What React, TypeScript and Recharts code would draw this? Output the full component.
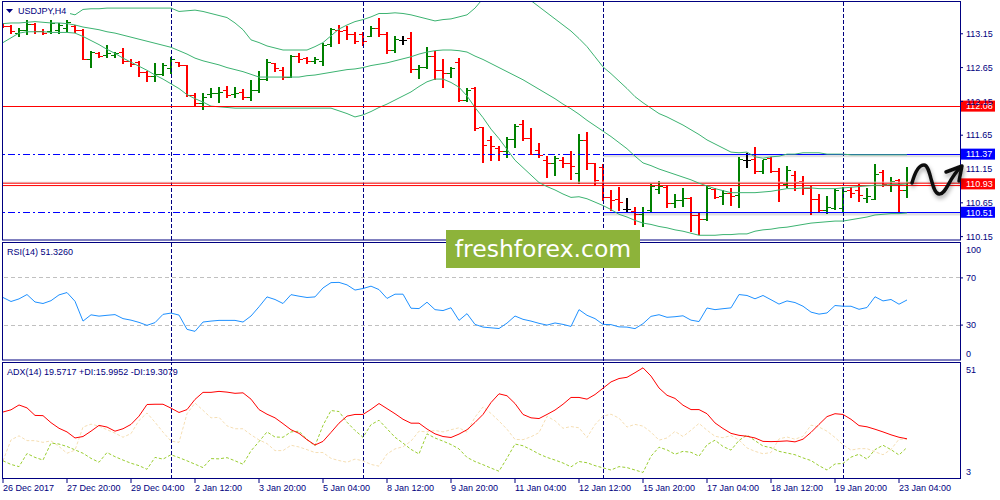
import React from "react";
import { ComposedChart, Bar, Line, XAxis, YAxis, ReferenceLine } from "recharts";

// USDJPY H4, 114 bars
const open = [
  113.30, 113.27, 113.16, 113.21, 113.30, 113.19, 113.19, 113.21, 113.24, 113.27,
  113.21, 112.77, 112.87, 112.84, 112.84, 112.88, 112.75, 112.74, 112.59, 112.53,
  112.56, 112.65, 112.74, 112.69, 112.25, 112.13, 112.26, 112.28, 112.32, 112.26,
  112.29, 112.22, 112.32, 112.48, 112.72, 112.62, 112.51, 112.82, 112.79, 112.75,
  112.75, 113.00, 113.21, 113.21, 113.14, 113.15, 113.11, 113.24, 113.15, 112.91,
  113.06, 113.09, 112.63, 112.66, 112.82, 112.62, 112.57, 112.74, 112.17, 112.35,
  111.77, 111.58, 111.46, 111.42, 111.60, 111.82, 111.61, 111.43, 111.29, 111.24,
  111.29, 111.24, 111.09, 111.58, 111.24, 111.18, 110.74, 110.71, 110.56, 110.53,
  110.49, 110.55, 110.86, 110.89, 110.65, 110.69, 110.72, 110.47, 110.41, 110.86,
  110.75, 110.80, 110.77, 111.29, 111.30, 111.12, 111.32, 111.12, 110.93, 111.06,
  110.97, 110.87, 110.71, 110.55, 110.57, 110.57, 110.84, 110.84, 110.72, 110.71,
  111.11, 110.92, 110.99, 110.84,
];
const high = [
  113.31, 113.28, 113.24, 113.36, 113.31, 113.22, 113.36, 113.31, 113.36, 113.28,
  113.22, 112.90, 112.88, 112.99, 112.88, 112.94, 112.78, 112.75, 112.60, 112.72,
  112.72, 112.81, 112.74, 112.69, 112.28, 112.28, 112.35, 112.37, 112.38, 112.37,
  112.34, 112.47, 112.60, 112.78, 112.72, 112.66, 112.84, 112.87, 112.81, 112.81,
  113.02, 113.24, 113.28, 113.27, 113.18, 113.18, 113.27, 113.39, 113.17, 113.12,
  113.11, 113.18, 112.69, 112.96, 112.90, 112.78, 112.66, 112.79, 112.35, 112.37,
  111.77, 111.64, 111.49, 111.63, 111.82, 111.88, 111.76, 111.54, 111.34, 111.34,
  111.33, 111.42, 111.67, 111.69, 111.24, 111.23, 110.84, 110.89, 110.72, 110.59,
  110.59, 110.93, 110.97, 110.92, 110.78, 110.87, 110.74, 110.50, 110.92, 110.87,
  110.84, 110.87, 111.33, 111.39, 111.48, 111.29, 111.33, 111.17, 111.20, 111.12,
  111.05, 110.90, 110.78, 110.75, 110.86, 110.89, 110.89, 110.93, 110.87, 111.23,
  111.14, 111.03, 111.00, 111.18,
];
const low = [
  113.25, 113.16, 113.11, 113.14, 113.16, 113.14, 113.16, 113.16, 113.19, 113.18,
  112.77, 112.66, 112.81, 112.80, 112.81, 112.72, 112.68, 112.53, 112.45, 112.45,
  112.54, 112.57, 112.68, 112.23, 112.08, 112.04, 112.22, 112.14, 112.22, 112.22,
  112.19, 112.17, 112.29, 112.47, 112.60, 112.48, 112.51, 112.74, 112.72, 112.72,
  112.69, 112.97, 113.02, 113.08, 113.02, 112.99, 113.11, 113.11, 112.87, 112.88,
  113.00, 112.59, 112.50, 112.65, 112.48, 112.37, 112.51, 112.16, 112.16, 111.73,
  111.26, 111.29, 111.29, 111.33, 111.48, 111.58, 111.37, 111.33, 111.03, 111.06,
  111.18, 111.00, 110.95, 111.15, 110.92, 110.69, 110.55, 110.55, 110.52, 110.34,
  110.31, 110.52, 110.80, 110.59, 110.59, 110.60, 110.24, 110.19, 110.40, 110.72,
  110.63, 110.62, 110.59, 111.18, 111.09, 111.09, 111.11, 110.68, 110.89, 110.84,
  110.78, 110.49, 110.52, 110.50, 110.56, 110.53, 110.74, 110.68, 110.66, 110.71,
  110.90, 110.83, 110.53, 110.74,
];
const close = [
  113.27, 113.19, 113.21, 113.30, 113.19, 113.16, 113.31, 113.28, 113.33, 113.21,
  112.77, 112.88, 112.82, 112.87, 112.87, 112.75, 112.71, 112.59, 112.53, 112.56,
  112.69, 112.77, 112.69, 112.25, 112.13, 112.22, 112.28, 112.29, 112.25, 112.28,
  112.22, 112.32, 112.48, 112.74, 112.65, 112.51, 112.82, 112.78, 112.75, 112.78,
  112.99, 113.22, 113.19, 113.14, 113.05, 113.05, 113.24, 113.15, 112.91, 113.08,
  113.06, 112.63, 112.66, 112.82, 112.62, 112.57, 112.65, 112.17, 112.32, 111.76,
  111.51, 111.49, 111.42, 111.60, 111.79, 111.61, 111.37, 111.36, 111.24, 111.32,
  111.24, 111.20, 111.58, 111.24, 110.99, 110.74, 110.69, 110.66, 110.56, 110.49,
  110.52, 110.90, 110.90, 110.65, 110.69, 110.72, 110.47, 110.41, 110.87, 110.74,
  110.80, 110.75, 111.30, 111.29, 111.12, 111.30, 111.12, 110.96, 111.14, 110.96,
  110.87, 110.71, 110.55, 110.59, 110.84, 110.83, 110.80, 110.77, 110.75, 111.08,
  110.93, 110.97, 110.84, 110.96,
];

// Bollinger bands
const upper = [
  113.45, 113.46, 113.46, 113.46, 113.46, 113.46, 113.46, 113.46, 113.46, 113.43,
  113.51, 113.52, 113.52, 113.53, 113.53, 113.53, 113.53, 113.53, 113.53, 113.53,
  113.53, 113.53, 113.48, 113.49, 113.50, 113.48, 113.45, 113.42, 113.39, 113.31,
  113.21, 113.06, 113.02, 112.97, 112.94, 112.91, 112.91, 112.91, 112.91, 112.96,
  113.02, 113.12, 113.22, 113.28, 113.33, 113.36, 113.40, 113.45, 113.45, 113.46,
  113.45, 113.43, 113.40, 113.37, 113.34, 113.36, 113.37, 113.40, 113.43, 113.53,
  113.67, 113.77, 113.86, 113.88, 113.88, 113.76, 113.64, 113.55, 113.46, 113.37,
  113.28, 113.19, 113.08, 112.96, 112.81, 112.66, 112.56, 112.45, 112.34, 112.22,
  112.13, 112.05, 111.97, 111.92, 111.86, 111.80, 111.73, 111.66, 111.58, 111.52,
  111.46, 111.40, 111.39, 111.40, 111.33, 111.31, 111.33, 111.34, 111.37, 111.37,
  111.39, 111.39, 111.39, 111.37, 111.37, 111.37, 111.36, 111.36, 111.36, 111.36,
  111.36, 111.36, 111.36, 111.36,
];
const mid = [
  113.30, 113.31, 113.31, 113.32, 113.33, 113.32, 113.31, 113.31, 113.30, 113.28,
  113.25, 113.23, 113.21, 113.18, 113.16, 113.13, 113.10, 113.07, 113.04, 113.01,
  112.98, 112.95, 112.90, 112.85, 112.79, 112.75, 112.72, 112.69, 112.65, 112.62,
  112.59, 112.55, 112.51, 112.51, 112.51, 112.51, 112.51, 112.51, 112.53, 112.54,
  112.56, 112.58, 112.60, 112.62, 112.63, 112.65, 112.68, 112.70, 112.72, 112.75,
  112.78, 112.81, 112.85, 112.88, 112.90, 112.91, 112.91, 112.90, 112.88, 112.82,
  112.77, 112.71, 112.65, 112.59, 112.53, 112.47, 112.40, 112.33, 112.26, 112.19,
  112.11, 112.04, 111.96, 111.87, 111.79, 111.71, 111.63, 111.54, 111.45, 111.34,
  111.24, 111.20, 111.15, 111.11, 111.07, 111.03, 110.99, 110.94, 110.90, 110.86,
  110.83, 110.80, 110.80, 110.80, 110.80, 110.81, 110.82, 110.84, 110.86, 110.86,
  110.87, 110.87, 110.86, 110.86, 110.86, 110.87, 110.88, 110.89, 110.90, 110.91,
  110.91, 110.92, 110.92, 110.93,
];
const lower = [
  113.02, 113.09, 113.16, 113.18, 113.18, 113.18, 113.17, 113.17, 113.17, 113.16,
  113.11, 113.05, 112.99, 112.92, 112.86, 112.79, 112.73, 112.67, 112.61, 112.54,
  112.48, 112.41, 112.34, 112.25, 112.19, 112.14, 112.08, 112.07, 112.06, 112.05,
  112.05, 112.05, 112.05, 112.05, 112.05, 112.05, 112.05, 112.05, 112.05, 112.05,
  112.05, 112.05, 112.01, 111.97, 111.92, 111.95, 112.00, 112.06, 112.11, 112.17,
  112.23, 112.29, 112.37, 112.44, 112.48, 112.48, 112.43, 112.36, 112.23, 112.06,
  111.91, 111.74, 111.60, 111.44, 111.28, 111.17, 111.06, 110.95, 110.89, 110.84,
  110.78, 110.73, 110.74, 110.71, 110.66, 110.61, 110.55, 110.48, 110.44, 110.39,
  110.35, 110.33, 110.30, 110.28, 110.25, 110.23, 110.20, 110.17, 110.17, 110.17,
  110.18, 110.18, 110.19, 110.19, 110.23, 110.25, 110.26, 110.28, 110.29, 110.31,
  110.33, 110.35, 110.36, 110.37, 110.38, 110.38, 110.40, 110.42, 110.44, 110.47,
  110.48, 110.49, 110.49, 110.50,
];

const rsi = [
  53.4, 50.0, 52.2, 55.9, 49.6, 48.3, 50.7, 55.6, 57.6, 50.2,
  33.4, 38.7, 37.6, 38.3, 38.9, 35.5, 34.2, 32.3, 29.8, 32.1,
  39.1, 40.2, 38.5, 26.4, 24.7, 32.6, 33.4, 34.0, 34.0, 34.0,
  32.6, 37.7, 45.5, 53.9, 51.7, 48.3, 55.8, 54.5, 53.4, 53.9,
  61.5, 66.0, 66.2, 64.1, 59.7, 61.0, 63.0, 60.1, 52.6, 56.2,
  56.2, 44.3, 44.0, 49.4, 43.1, 42.3, 44.7, 34.0, 39.7, 30.6,
  28.3, 27.7, 27.1, 31.7, 37.7, 34.9, 33.4, 31.5, 30.0, 31.8,
  30.6, 28.9, 43.1, 38.3, 35.5, 30.6, 30.4, 28.5, 28.3, 27.0,
  31.2, 37.4, 38.8, 36.6, 37.1, 37.9, 34.2, 33.0, 44.5, 43.1,
  43.9, 44.6, 55.9, 55.1, 52.3, 55.1, 51.5, 47.8, 50.5, 49.1,
  46.0, 41.0, 39.3, 40.3, 46.6, 46.0, 46.0, 43.4, 44.9, 54.0,
  50.5, 51.7, 47.7, 51.3,
];

const adx = [
  30.6, 31.5, 33.5, 32.3, 29.2, 29.1, 26.2, 23.9, 22.4, 19.9,
  20.5, 22.7, 25.1, 24.4, 22.7, 23.7, 25.5, 28.9, 33.7, 33.8,
  33.8, 32.2, 30.4, 31.6, 35.8, 38.7, 38.7, 39.1, 38.8, 38.3,
  38.5, 35.9, 31.6, 29.7, 28.2, 25.8, 23.3, 21.8, 19.2, 17.0,
  18.5, 22.2, 26.0, 28.9, 29.6, 29.6, 31.7, 34.1, 32.0, 29.9,
  27.6, 26.0, 26.0, 23.6, 21.6, 20.5, 20.1, 21.5, 23.3, 26.3,
  29.6, 34.5, 38.1, 37.3, 34.1, 29.6, 28.2, 27.9, 29.6, 31.4,
  33.8, 36.6, 36.6, 35.9, 37.8, 40.4, 43.0, 44.4, 44.9, 46.8,
  48.8, 45.4, 40.5, 37.5, 36.2, 33.4, 31.6, 31.6, 29.9, 26.1,
  23.8, 21.8, 21.0, 20.6, 19.9, 18.5, 18.4, 18.5, 18.7, 18.3,
  19.4, 22.2, 25.5, 28.7, 29.9, 29.6, 27.6, 25.0, 24.5, 23.5,
  22.4, 21.2, 20.2, 19.57,
];
const plusDi = [
  10.5, 9.0, 8.1, 13.5, 11.9, 10.8, 17.8, 17.4, 16.4, 15.0,
  13.6, 11.5, 9.9, 13.9, 12.2, 10.8, 9.5, 8.5, 7.0, 11.9,
  11.2, 13.0, 11.8, 10.5, 9.1, 7.7, 11.4, 11.3, 11.8, 10.5,
  9.1, 14.6, 18.4, 22.4, 20.3, 20.2, 22.4, 22.7, 19.3, 16.7,
  25.1, 31.2, 30.8, 26.4, 23.0, 20.2, 25.4, 27.2, 23.7, 20.2,
  17.8, 15.2, 13.3, 21.6, 19.9, 18.6, 17.2, 15.4, 11.9, 10.2,
  8.9, 7.5, 6.2, 11.6, 17.4, 16.7, 15.1, 13.3, 11.9, 10.8,
  9.6, 8.0, 10.2, 9.7, 8.5, 7.6, 6.7, 8.1, 7.7, 6.7,
  5.7, 12.4, 16.1, 15.0, 13.2, 14.4, 14.0, 12.4, 17.1, 19.0,
  16.4, 14.9, 18.9, 21.1, 18.8, 16.6, 15.9, 14.4, 13.7, 13.0,
  11.7, 10.6, 8.5, 6.7, 9.2, 9.4, 12.0, 13.2, 11.2, 15.1,
  16.9, 15.1, 12.9, 15.99,
];
const minusDi = [
  10.5, 19.1, 20.8, 18.8, 18.8, 18.1, 18.7, 16.4, 13.6, 14.9,
  24.4, 25.6, 24.8, 23.3, 21.9, 20.2, 21.7, 27.1, 30.2, 26.4,
  22.3, 18.6, 18.1, 29.9, 34.3, 31.3, 28.2, 28.4, 24.9, 23.7,
  23.7, 21.2, 19.1, 17.6, 14.7, 14.7, 16.9, 16.2, 15.1, 13.9,
  13.9, 11.5, 10.6, 9.9, 11.2, 10.5, 9.0, 8.3, 13.3, 15.4,
  16.3, 18.6, 22.7, 22.4, 23.0, 22.4, 23.3, 24.1, 22.3, 28.5,
  32.7, 30.0, 26.9, 23.5, 19.3, 19.2, 20.4, 22.1, 28.8, 27.0,
  23.9, 24.6, 24.1, 20.1, 25.4, 28.9, 29.7, 28.1, 24.4, 25.5,
  24.8, 22.3, 19.0, 19.9, 22.6, 20.5, 23.1, 25.9, 23.1, 20.6,
  20.0, 20.9, 19.1, 15.8, 14.4, 13.4, 13.9, 19.5, 20.3, 19.4,
  20.6, 25.2, 24.4, 22.7, 20.1, 17.1, 14.9, 15.5, 15.5, 14.2,
  13.0, 15.2, 19.4, 19.31,
];

const xLabels = [
  "26 Dec 2017", "27 Dec 20:00", "29 Dec 04:00", "2 Jan 12:00", "3 Jan 20:00",
  "5 Jan 04:00", "8 Jan 12:00", "9 Jan 20:00", "11 Jan 04:00", "12 Jan 12:00",
  "15 Jan 20:00", "17 Jan 04:00", "18 Jan 12:00", "19 Jan 20:00", "23 Jan 04:00",
];
const priceTicks = [110.15, 110.65, 111.15, 111.65, 112.15, 112.65, 113.15];
const weekStarts = [21, 45, 75, 105];
const boxFrom = 75;

const NAVY = "#000080";
const RED = "#ff0000";
const BLUE = "#0000ff";
const UP = "#008000";
const BAND = "#3cb371";
const FONT = '"Liberation Sans", Arial, sans-serif';
const X_DOMAIN: [number, number] = [-0.125, 119.625];
const xTicks = xLabels.map((_, k) => k * 8);

const rows = open.map((o, i) => ({
  i,
  open: o,
  high: high[i],
  low: low[i],
  close: close[i],
  range: [low[i], high[i]],
  upper: upper[i],
  mid: mid[i],
  lower: lower[i],
  rsi: rsi[i],
  adx: adx[i],
  plusDi: plusDi[i],
  minusDi: minusDi[i],
}));

function OhlcBar(props: any) {
  const { x, y, width, height, payload } = props;
  if (x == null || y == null || !payload) return null;
  const top = Math.min(y, y + height);
  const bot = Math.max(y, y + height);
  const span = payload.high - payload.low;
  const at = (v: number) => (span > 0 ? top + ((payload.high - v) / span) * (bot - top) : top);
  const cx = Math.round(x + width / 2);
  const color = payload.close > payload.open ? UP : payload.close < payload.open ? RED : "#000";
  const yo = Math.round(at(payload.open)) + 0.5;
  const yc = Math.round(at(payload.close)) + 0.5;
  return (
    <g stroke={color}>
      <line x1={cx} x2={cx} y1={Math.round(top)} y2={Math.round(bot) + 1} strokeWidth={2} />
      <line x1={cx - 4} x2={cx} y1={yo} y2={yo} strokeWidth={1} />
      <line x1={cx} x2={cx + 4} y1={yc} y2={yc} strokeWidth={1} />
    </g>
  );
}

const priceTag = (value: number, bg: string) => (props: any) => {
  const vb = props.viewBox || {};
  const x = (vb.x ?? 0) + (vb.width ?? 0) + 1;
  const y = vb.y ?? 0;
  return (
    <g>
      <rect x={x} y={y - 5.5} width={34} height={11} fill={bg} />
      <text x={x + 5} y={y} dy="0.36em" fill="#fff" fontSize={9} fontFamily={FONT}>
        {value.toFixed(2)}
      </text>
    </g>
  );
};

const edgeTick = (shift: Record<number, number>, marks: number[]) => (props: any) => {
  const { x, y, payload } = props;
  const v = payload.value;
  return (
    <g>
      {marks.includes(v) && <line x1={x - 6} x2={x - 3} y1={y} y2={y} stroke={NAVY} />}
      <text x={x} y={y + (shift[v] ?? 0)} dy="0.36em" textAnchor="start" fill={NAVY} fontSize={9} fontFamily={FONT}>
        {v}
      </text>
    </g>
  );
};

function DateTick(props: any) {
  const { x, y, payload } = props;
  return (
    <text x={x} y={y} dy="0.71em" textAnchor="start" fill={NAVY} fontSize={9} fontFamily={FONT}>
      {xLabels[Math.round(payload.value / 8)]}
    </text>
  );
}

const separators = weekStarts.map((w) => (
  <ReferenceLine key={w} x={w} stroke={NAVY} strokeDasharray="4 2" shapeRendering="crispEdges" />
));

function PriceChart() {
  return (
    <ComposedChart width={1000} height={242} data={rows} margin={{ top: 2, right: 0, bottom: 2, left: 2 }}>
      <XAxis type="number" dataKey="i" domain={X_DOMAIN} allowDataOverflow hide />
      <YAxis
        orientation="right"
        width={40}
        domain={[110.1, 113.62]}
        allowDataOverflow
        ticks={priceTicks}
        interval={0}
        tickFormatter={(v) => v.toFixed(2)}
        tick={{ fill: NAVY, fontSize: 9, fontFamily: FONT }}
        tickLine={{ stroke: NAVY }}
        tickSize={3}
        tickMargin={3}
        axisLine={false}
      />
      {separators}
      <ReferenceLine y={111.37} stroke={BLUE} strokeDasharray="7 3 2 3" shapeRendering="crispEdges" />
      <ReferenceLine y={110.51} stroke={BLUE} strokeDasharray="7 3 2 3" shapeRendering="crispEdges" />
      <ReferenceLine segment={[{ x: boxFrom, y: 111.345 }, { x: X_DOMAIN[1], y: 111.345 }]} stroke="rgba(0,0,0,0.12)" strokeWidth={3} />
      <ReferenceLine segment={[{ x: boxFrom, y: 110.485 }, { x: X_DOMAIN[1], y: 110.485 }]} stroke="rgba(0,0,0,0.12)" strokeWidth={3} />
      <ReferenceLine segment={[{ x: boxFrom, y: 111.37 }, { x: X_DOMAIN[1], y: 111.37 }]} stroke={BLUE} shapeRendering="crispEdges" />
      <ReferenceLine segment={[{ x: boxFrom, y: 110.51 }, { x: X_DOMAIN[1], y: 110.51 }]} stroke={BLUE} shapeRendering="crispEdges" />
      <ReferenceLine y={110.955} stroke="#dddddd" />
      <ReferenceLine y={110.94} stroke={RED} />
      <ReferenceLine y={110.905} stroke={RED} />
      <Line dataKey="upper" stroke={BAND} dot={false} strokeWidth={1} isAnimationActive={false} />
      <Line dataKey="mid" stroke={BAND} dot={false} strokeWidth={1} isAnimationActive={false} />
      <Line dataKey="lower" stroke={BAND} dot={false} strokeWidth={1} isAnimationActive={false} />
      <Bar dataKey="range" shape={<OhlcBar />} isAnimationActive={false} />
      <ReferenceLine y={112.08} stroke={RED} shapeRendering="crispEdges" label={priceTag(112.08, RED)} />
      <ReferenceLine y={111.37} stroke="none" label={priceTag(111.37, BLUE)} />
      <ReferenceLine y={110.93} stroke="none" label={priceTag(110.93, RED)} />
      <ReferenceLine y={110.51} stroke="none" label={priceTag(110.51, BLUE)} />
    </ComposedChart>
  );
}

function RsiChart() {
  return (
    <ComposedChart width={1000} height={119} data={rows} margin={{ top: 0.5, right: 0, bottom: 0.5, left: 2 }}>
      <XAxis type="number" dataKey="i" domain={X_DOMAIN} allowDataOverflow hide />
      <YAxis
        orientation="right"
        width={40}
        domain={[0, 100]}
        allowDataOverflow
        ticks={[0, 30, 70, 100]}
        interval={0}
        tick={edgeTick({ 100: 7, 0: -7 }, [30, 70])}
        tickLine={false}
        tickSize={3}
        tickMargin={3}
        axisLine={false}
      />
      <ReferenceLine y={70} stroke="#c0c0c0" strokeDasharray="4 3" shapeRendering="crispEdges" />
      <ReferenceLine y={30} stroke="#c0c0c0" strokeDasharray="4 3" shapeRendering="crispEdges" />
      {separators}
      <Line dataKey="rsi" stroke="#1e90ff" dot={false} strokeWidth={1} isAnimationActive={false} />
    </ComposedChart>
  );
}

function AdxChart() {
  return (
    <ComposedChart width={1000} height={138} data={rows} margin={{ top: 0.5, right: 0, bottom: 0, left: 2 }}>
      <XAxis
        type="number"
        dataKey="i"
        domain={X_DOMAIN}
        allowDataOverflow
        ticks={xTicks}
        interval={0}
        height={21}
        axisLine={false}
        tickLine={{ stroke: NAVY }}
        tickSize={4}
        tickMargin={2}
        tick={<DateTick />}
      />
      <YAxis
        orientation="right"
        width={40}
        domain={[3, 51]}
        allowDataOverflow
        ticks={[3, 51]}
        interval={0}
        tick={edgeTick({ 51: 7, 3: -7 }, [])}
        tickLine={false}
        tickSize={3}
        tickMargin={3}
        axisLine={false}
      />
      {separators}
      <Line dataKey="minusDi" stroke="#f5deb3" strokeDasharray="3 2" dot={false} strokeWidth={1} isAnimationActive={false} />
      <Line dataKey="plusDi" stroke="#9acd32" strokeDasharray="3 2" dot={false} strokeWidth={1} isAnimationActive={false} />
      <Line dataKey="adx" stroke={RED} dot={false} strokeWidth={1} isAnimationActive={false} />
    </ComposedChart>
  );
}

export default function App() {
  const label = { fill: NAVY, fontSize: 9, fontFamily: FONT } as const;
  return (
    <div style={{ position: "absolute", left: 0, top: 0, width: 1000, height: 500, background: "#fff", overflow: "hidden", fontFamily: FONT }}>
      <div style={{ position: "absolute", left: 0, top: 0 }}>
        <PriceChart />
      </div>
      <div style={{ position: "absolute", left: 0, top: 242 }}>
        <RsiChart />
      </div>
      <div style={{ position: "absolute", left: 0, top: 362 }}>
        <AdxChart />
      </div>
      <svg width={1000} height={500} style={{ position: "absolute", left: 0, top: 0, pointerEvents: "none" }}>
        <defs>
          <filter id="sh" x="-20%" y="-20%" width="140%" height="160%">
            <feDropShadow dx="1" dy="3" stdDeviation="2" floodColor="#000" floodOpacity="0.35" />
          </filter>
        </defs>
        <rect x={3} y={3} width={67} height={13} fill="#fff" />
        <g fill="none" stroke={NAVY} strokeWidth={1}>
          <rect x={2.5} y={1.5} width={958} height={238.5} />
          <rect x={2.5} y={242.5} width={958} height={117.5} />
          <rect x={2.5} y={362.5} width={958} height={116} />
        </g>
        <path d="M6,9 L13,9 L9.5,13 Z" fill={NAVY} />
        <text x={18} y={11} dy="0.36em" {...label}>USDJPY,H4</text>
        <text x={7} y={252} dy="0.36em" {...label}>RSI(14) 51.3260</text>
        <text x={7} y={372} dy="0.36em" {...label}>ADX(14) 19.5717 +DI:15.9952 -DI:19.3079</text>
        <g filter="url(#sh)" fill="none" stroke="#111" strokeWidth={3.5} strokeLinecap="round" strokeLinejoin="round">
          <path d="M912,183 C915,172 919,165 924,165 C931,165 931,193 939,194 C946,195 949,178 960,168" />
          <path d="M946,172 L962,166 L959,181" />
        </g>
      </svg>
      <div
        style={{
          position: "absolute",
          left: 446,
          top: 230,
          width: 194,
          height: 38,
          background: "#8db33a",
          color: "#fff",
          fontFamily: '"DejaVu Sans", Verdana, sans-serif',
          fontSize: 23.5,
          lineHeight: "38px",
          textAlign: "center",
        }}
      >
        freshforex.com
      </div>
    </div>
  );
}
